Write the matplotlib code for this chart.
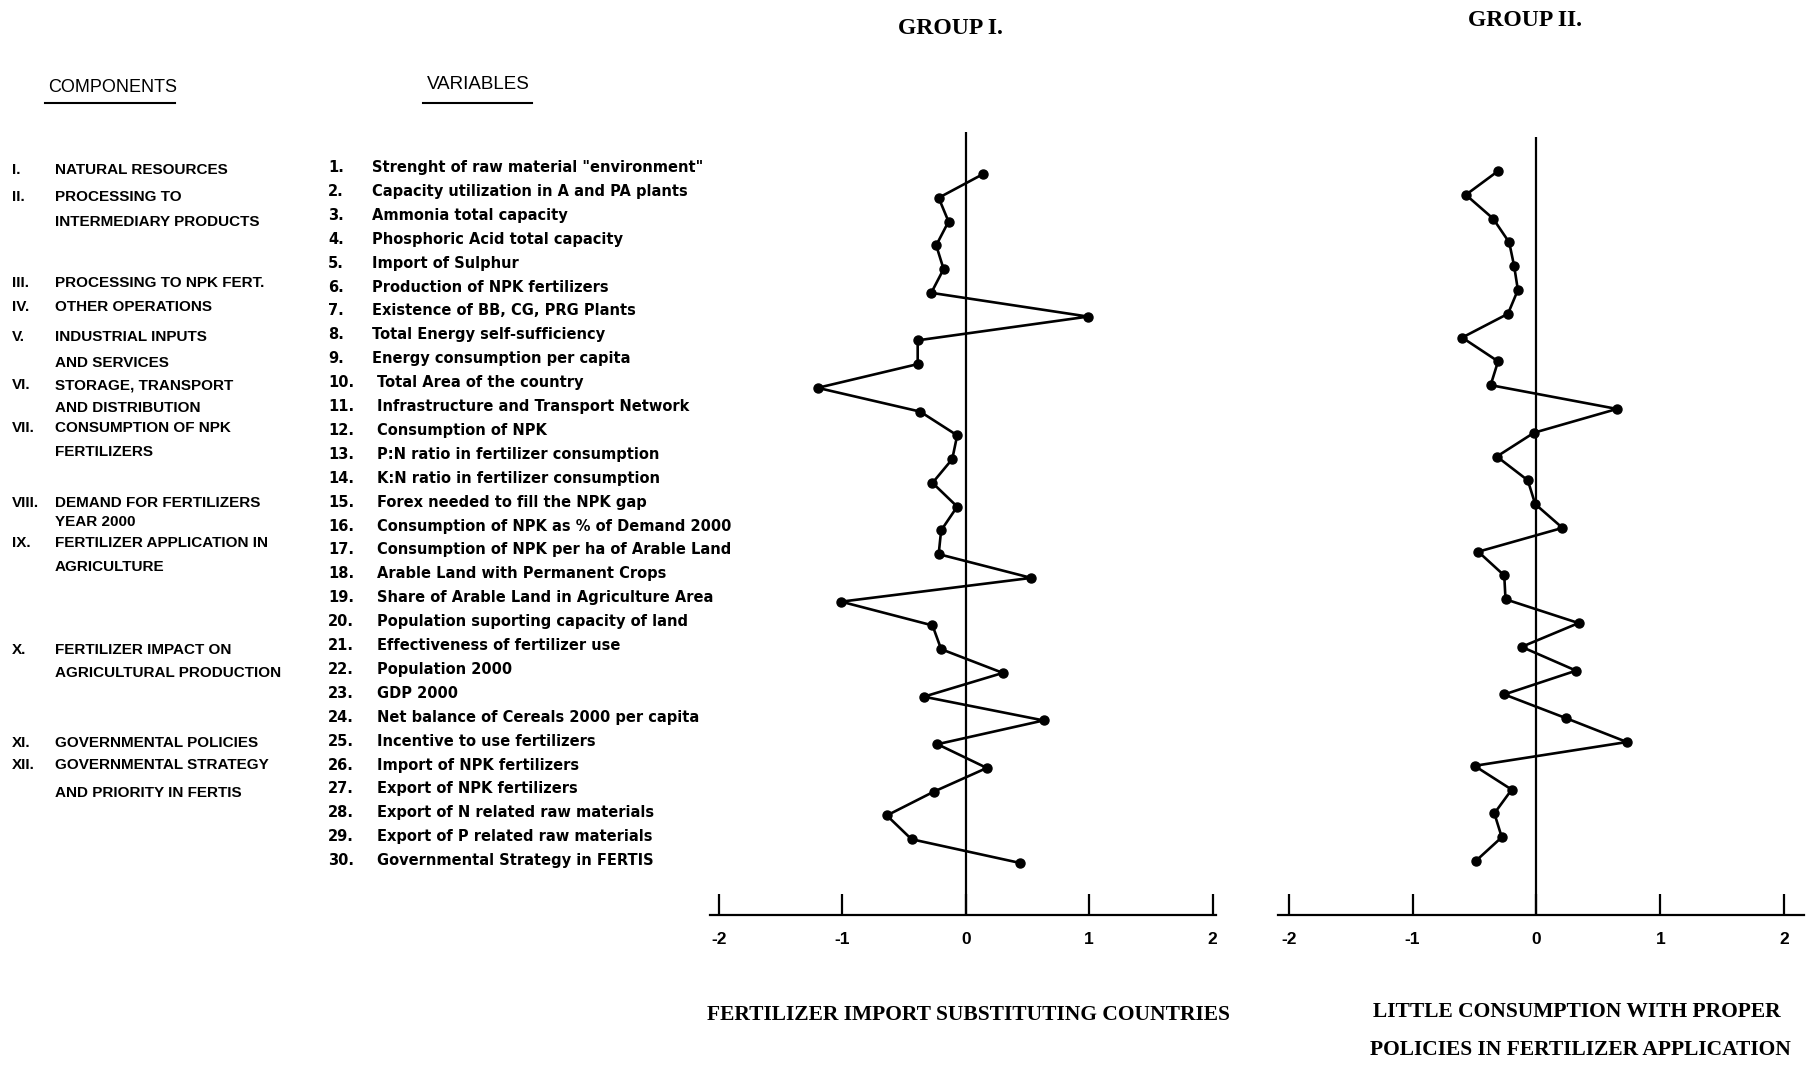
import matplotlib.pyplot as plt
from matplotlib.lines import Line2D
from matplotlib.transforms import blended_transform_factory

plt.rcParams['font.family'] = ['Liberation Sans', 'DejaVu Sans']

# --- data ---
variables = [
    'Strenght of raw material "environment"',
    'Capacity utilization in A and PA plants',
    'Ammonia total capacity',
    'Phosphoric Acid total capacity',
    'Import of Sulphur',
    'Production of NPK fertilizers',
    'Existence of BB, CG, PRG Plants',
    'Total Energy self-sufficiency',
    'Energy consumption per capita',
    'Total Area of the country',
    'Infrastructure and Transport Network',
    'Consumption of NPK',
    'P:N ratio in fertilizer consumption',
    'K:N ratio in fertilizer consumption',
    'Forex needed to fill the NPK gap',
    'Consumption of NPK as % of Demand 2000',
    'Consumption of NPK per ha of Arable Land',
    'Arable Land with Permanent Crops',
    'Share of Arable Land in Agriculture Area',
    'Population suporting capacity of land',
    'Effectiveness of fertilizer use',
    'Population 2000',
    'GDP 2000',
    'Net balance of Cereals 2000 per capita',
    'Incentive to use fertilizers',
    'Import of NPK fertilizers',
    'Export of NPK fertilizers',
    'Export of N related raw materials',
    'Export of P related raw materials',
    'Governmental Strategy in FERTIS',
]

group1 = [0.14, -0.22, -0.14, -0.24, -0.18, -0.28, 0.99, -0.39, -0.39, -1.20,
          -0.37, -0.07, -0.11, -0.27, -0.07, -0.20, -0.22, 0.53, -1.01, -0.27,
          -0.20, 0.30, -0.34, 0.63, -0.23, 0.17, -0.26, -0.64, -0.44, 0.44]

group2 = [-0.31, -0.57, -0.35, -0.22, -0.18, -0.15, -0.23, -0.60, -0.31, -0.37,
          0.65, -0.02, -0.32, -0.07, -0.01, 0.21, -0.47, -0.26, -0.25, 0.34,
          -0.12, 0.32, -0.26, 0.24, 0.73, -0.50, -0.20, -0.34, -0.28, -0.49]

comp_numerals = ['I.', 'II.', 'III.', 'IV.', 'V.', 'VI.', 'VII.', 'VIII.',
                 'IX.', 'X.', 'XI.', 'XII.']
comp_names = [
    ['NATURAL RESOURCES'],
    ['PROCESSING TO', 'INTERMEDIARY PRODUCTS'],
    ['PROCESSING TO NPK FERT.'],
    ['OTHER OPERATIONS'],
    ['INDUSTRIAL INPUTS', 'AND SERVICES'],
    ['STORAGE, TRANSPORT', 'AND DISTRIBUTION'],
    ['CONSUMPTION OF NPK', 'FERTILIZERS'],
    ['DEMAND FOR FERTILIZERS', 'YEAR 2000'],
    ['FERTILIZER APPLICATION IN', 'AGRICULTURE'],
    ['FERTILIZER IMPACT ON', 'AGRICULTURAL PRODUCTION'],
    ['GOVERNMENTAL POLICIES'],
    ['GOVERNMENTAL STRATEGY', 'AND PRIORITY IN FERTIS'],
]

tick_values = [-2, -1, 0, 1, 2]
tick_labels = ['-2', '-1', '0', '1', '2']

# --- layout ---
W, H = 1812, 1071
fig = plt.figure(figsize=(W / 100, H / 100), dpi=100)


def fx(px):
    return px / W


def fy(py):
    return 1 - py / H


rows = list(range(1, len(variables) + 1))


def profile(left, right, top, ymin, ymax, xmin, xmax, scores):
    ax = fig.add_axes([fx(left), fy(915), fx(right) - fx(left), fy(top) - fy(915)])
    ax.plot(scores, rows, color='black', lw=1.9, marker='o', ms=6.5,
            mfc='black', mec='black')
    ax.axvline(0, color='black', lw=1.6)
    ax.set_xlim(xmin, xmax)
    ax.set_ylim(ymax, ymin)
    for s in ['top', 'left', 'right']:
        ax.spines[s].set_visible(False)
    ax.spines['bottom'].set_linewidth(1.6)
    ax.set_yticks([])
    ax.set_xticks(tick_values)
    ax.set_xticklabels(tick_labels, fontsize=12.5, fontweight='bold')
    ax.tick_params(axis='x', direction='in', length=15, width=1.6, pad=12)
    ax.patch.set_alpha(0)
    return ax


ax1 = profile(709.6, 1216, 132, -0.77, 32.19, -2.076, 2.027, group1)
ax2 = profile(1277.6, 1804, 137, -0.43, 32.27, -2.09, 2.16, group2)

# left-hand lists, aligned to the rows of the first profile
tr = blended_transform_factory(fig.transFigure, ax1.transData)
txt = dict(fontsize=10.5, fontweight='bold', va='center', transform=tr,
           family=['DejaVu Sans'])

for i, name in zip(rows, variables):
    y = i - 0.28 + 0.006 * i
    fig.text(fx(328), y, f'{i}.', **txt)
    fig.text(fx(372 if i < 10 else 377), y, name, **txt)

comp_rows = [0.83, 1.97, 5.57, 6.58, 7.86, 9.88, 11.69, 14.85, 16.53,
             21.03, 24.95, 25.88]
second_rows = {1: 3.01, 4: 8.94, 5: 10.85, 6: 12.69, 7: 15.63, 8: 17.53,
               9: 22.0, 11: 27.05}
ctxt = dict(fontsize=11, fontweight='bold', va='center', transform=tr)
for k, (num, lines) in enumerate(zip(comp_numerals, comp_names)):
    fig.text(fx(12), comp_rows[k], num, **ctxt)
    fig.text(fx(55), comp_rows[k], lines[0], **ctxt)
    if len(lines) > 1:
        fig.text(fx(55), second_rows[k], lines[1], **ctxt)

# headers
fig.text(fx(113), fy(87), 'COMPONENTS', fontsize=13, ha='center', va='center')
fig.text(fx(478), fy(85), 'VARIABLES', fontsize=13.5, ha='center', va='center')
fig.add_artist(Line2D([fx(45), fx(175)], [fy(103), fy(103)], color='black', lw=1.5))
fig.add_artist(Line2D([fx(423), fx(532)], [fy(103), fy(103)], color='black', lw=1.5))

serif = ['Liberation Serif', 'DejaVu Serif']
fig.text(fx(950), fy(28), 'GROUP I.', family=serif, fontsize=17,
         fontweight='bold', ha='center', va='center')
fig.text(fx(1525), fy(20), 'GROUP II.', family=serif, fontsize=17,
         fontweight='bold', ha='center', va='center')

fig.text(fx(968), fy(1015), 'FERTILIZER IMPORT SUBSTITUTING COUNTRIES',
         family=serif, fontsize=15.5, fontweight='bold', ha='center', va='center')
fig.text(fx(1577), fy(1012), 'LITTLE CONSUMPTION WITH PROPER',
         family=serif, fontsize=15.5, fontweight='bold', ha='center', va='center')
fig.text(fx(1580), fy(1050), 'POLICIES IN FERTILIZER APPLICATION',
         family=serif, fontsize=15.5, fontweight='bold', ha='center', va='center')

fig.savefig('out.png', dpi=100)
